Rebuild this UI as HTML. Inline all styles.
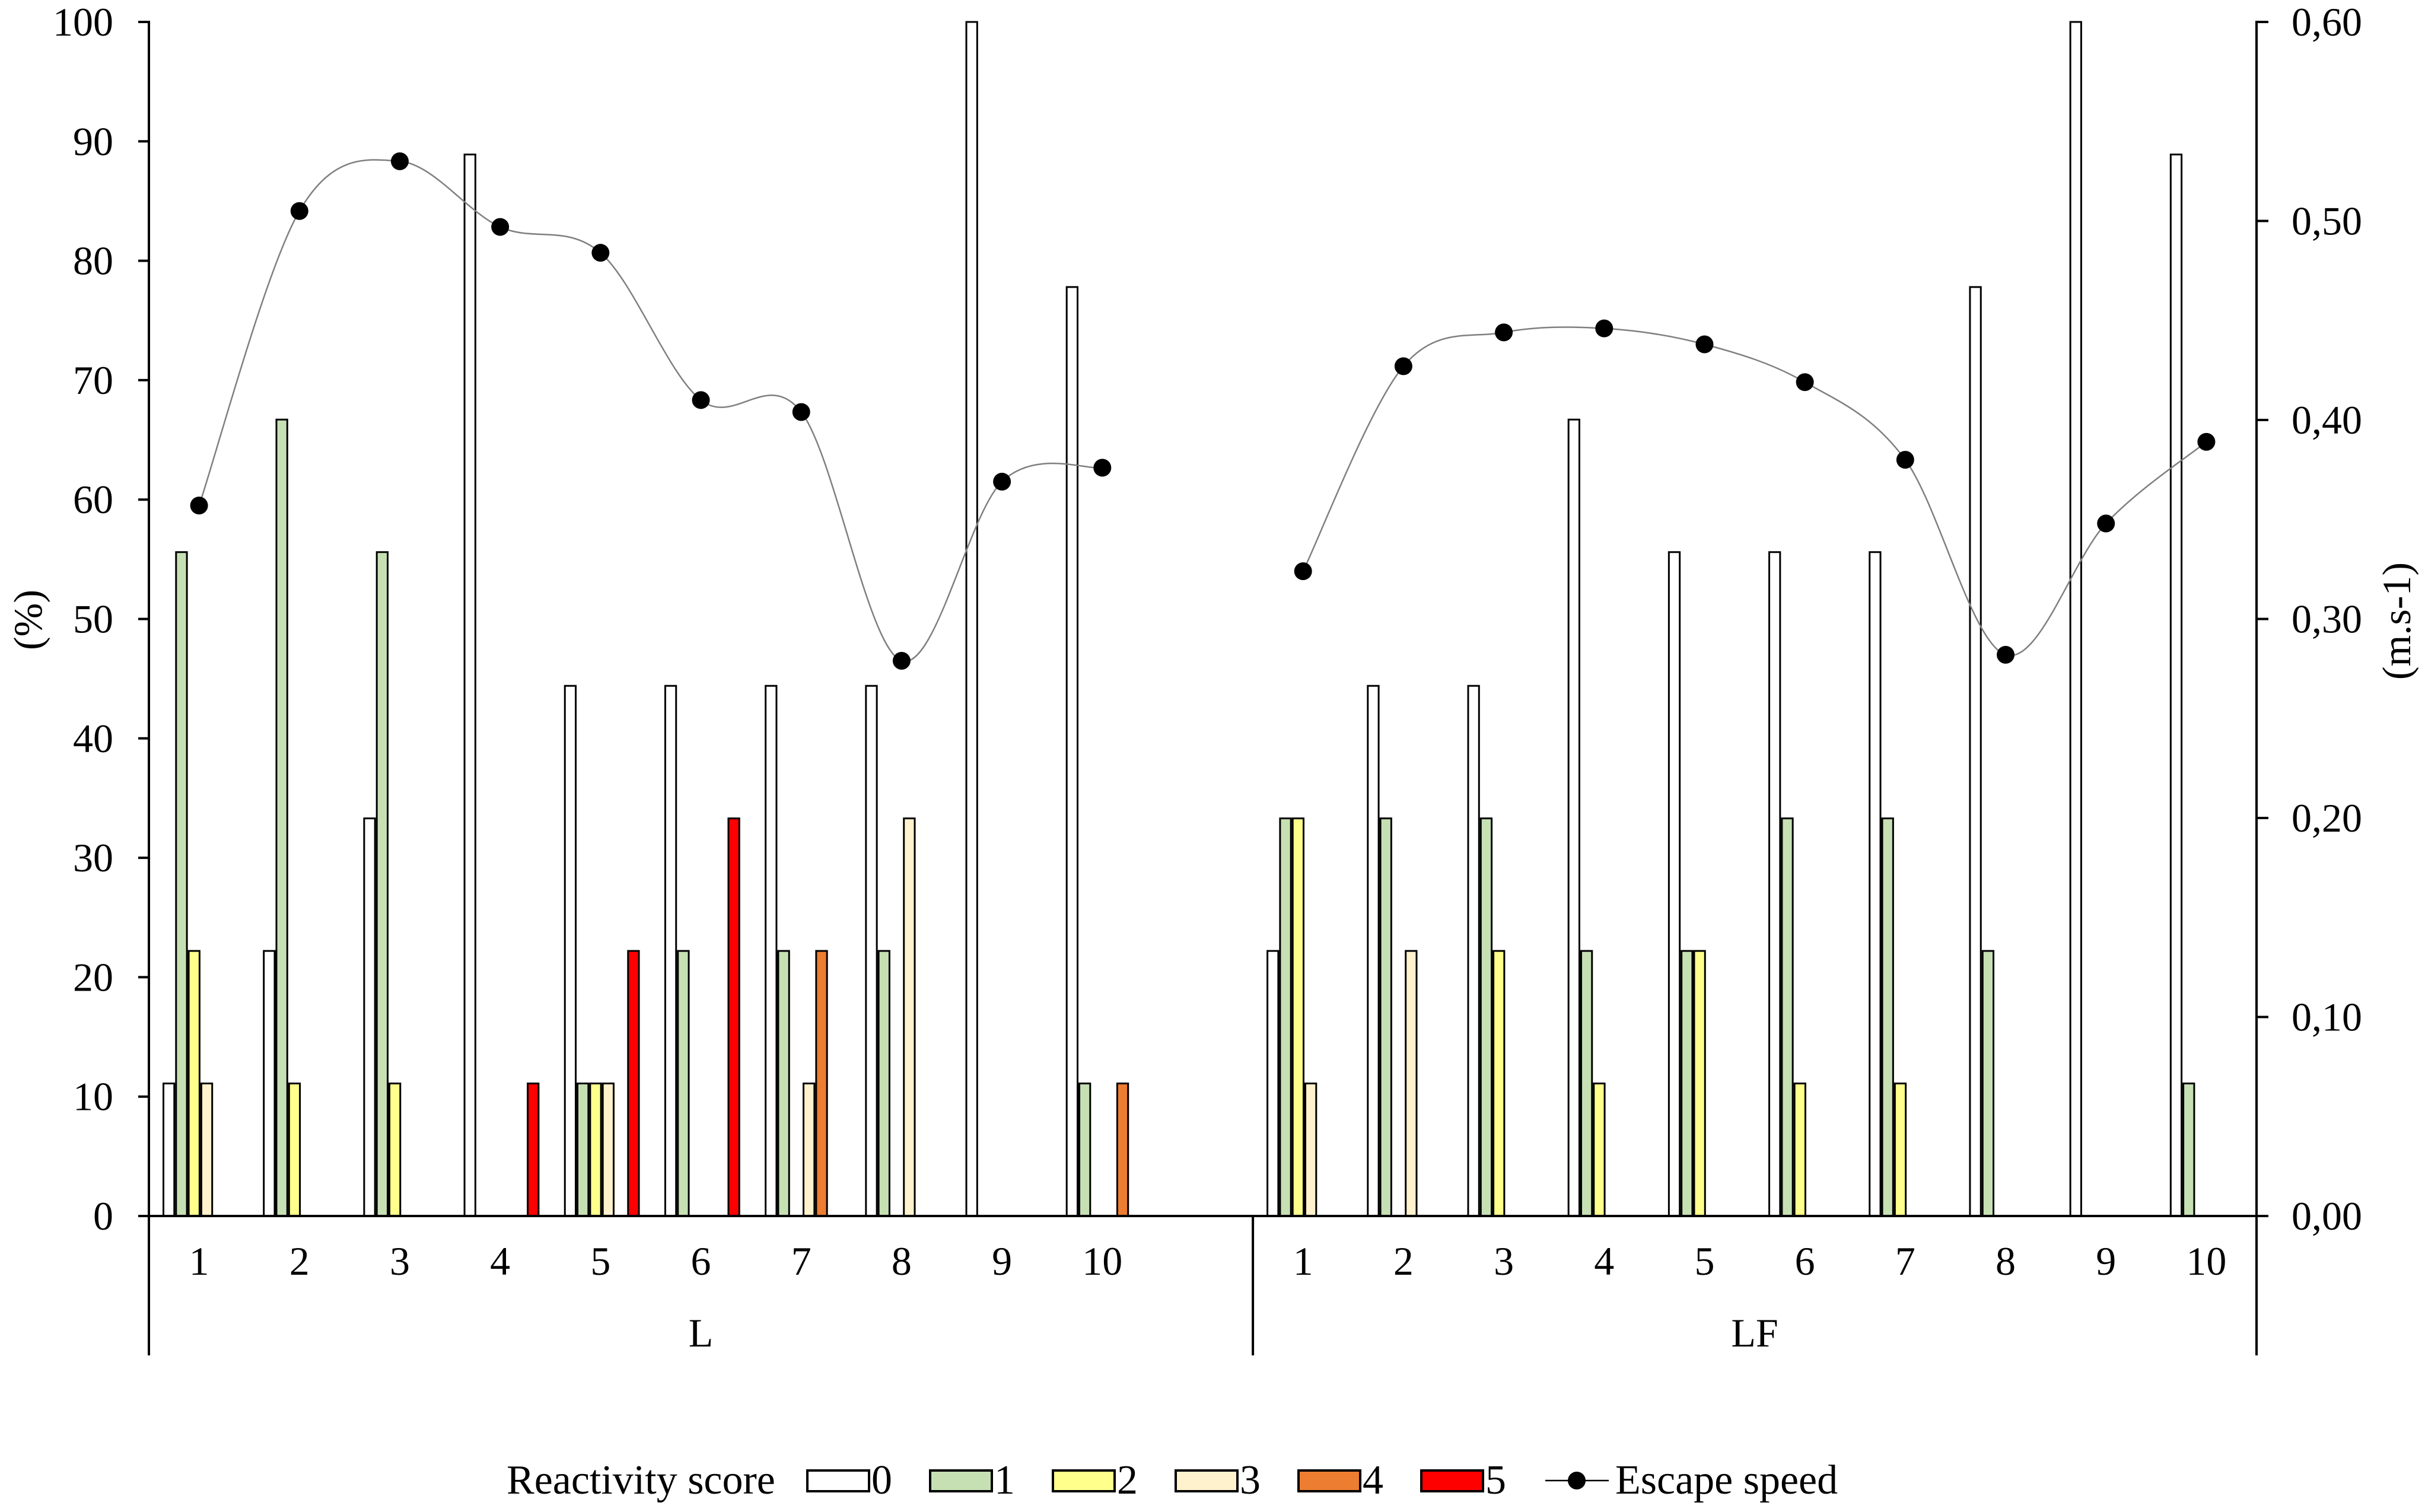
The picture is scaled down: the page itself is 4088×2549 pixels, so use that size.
<!DOCTYPE html>
<html><head><meta charset="utf-8">
<style>
html,body{margin:0;padding:0;background:#fff;}
svg{display:block;font-family:"Liberation Serif","Times New Roman",serif;}
</style></head>
<body>
<svg id="chart" width="4088" height="2549" viewBox="0 0 4088 2549" xmlns="http://www.w3.org/2000/svg">
<g id="bars"></g>
<g id="lines"></g>
<g id="axes"></g>
<g id="legend"></g>
</svg>
<script>
const groups = ["L", "LF"];
const categories = ["1","2","3","4","5","6","7","8","9","10"];
const scoreLabels = ["0","1","2","3","4","5"];
const scoreColors = ["#ffffff","#c6e0b4","#ffff8c","#fff2cc","#ed7d31","#ff0000"];
// percent per score [s0..s5] per category
const L_scores = [
 [11.1,55.6,22.2,11.1,0,0],
 [22.2,66.7,11.1,0,0,0],
 [33.3,55.6,11.1,0,0,0],
 [88.9,0,0,0,0,11.1],
 [44.4,11.1,11.1,11.1,0,22.2],
 [44.4,22.2,0,0,0,33.3],
 [44.4,22.2,0,11.1,22.2,0],
 [44.4,22.2,0,33.3,0,0],
 [100,0,0,0,0,0],
 [77.8,11.1,0,0,11.1,0]
];
const LF_scores = [
 [22.2,33.3,33.3,11.1,0,0],
 [44.4,33.3,0,22.2,0,0],
 [44.4,33.3,22.2,0,0,0],
 [66.7,22.2,11.1,0,0,0],
 [55.6,22.2,22.2,0,0,0],
 [55.6,33.3,11.1,0,0,0],
 [55.6,33.3,11.1,0,0,0],
 [77.8,22.2,0,0,0,0],
 [100,0,0,0,0,0],
 [88.9,11.1,0,0,0,0]
];
const L_speed = [0.357,0.505,0.530,0.497,0.484,0.410,0.404,0.279,0.369,0.376];
const LF_speed = [0.324,0.427,0.444,0.446,0.438,0.419,0.380,0.282,0.348,0.389];
const leftTicks = [0,10,20,30,40,50,60,70,80,90,100];
const rightTicks = ["0,00","0,10","0,20","0,30","0,40","0,50","0,60"];

const NS="http://www.w3.org/2000/svg";
const X0=251, X1=3804, Y0=2050, Y100=37;
const SLOT=(X1-X0)/21, BW=21.3, BOFF=23;
function yPct(v){return Y0-(v/100)*(Y0-Y100);}
function ySpd(v){return Y0-(v/0.6)*(Y0-Y100);}
function slotStart(g,i){return X0+(g===0?i:11+i)*SLOT;}
function mk(tag,attrs,parent){const e=document.createElementNS(NS,tag);for(const k in attrs)e.setAttribute(k,attrs[k]);parent.appendChild(e);return e;}

const barsG=document.getElementById('bars');
[L_scores,LF_scores].forEach((data,g)=>{
  data.forEach((row,i)=>{
    row.forEach((v,s)=>{
      if(v<=0) return;
      const x=slotStart(g,i)+BOFF+s*BW;
      const r=mk('rect',{x:x+1.5,y:yPct(v),width:BW-3,height:Y0-yPct(v),fill:scoreColors[s],stroke:'#000','stroke-width':3},barsG);
      
      
    });
  });
});

const linesG=document.getElementById('lines');
function spline(pts){
  let d='M'+pts[0][0]+','+pts[0][1];
  for(let i=0;i<pts.length-1;i++){
    const p0=pts[i-1]||pts[i],p1=pts[i],p2=pts[i+1],p3=pts[i+2]||pts[i+1];
    const c1=[p1[0]+(p2[0]-p0[0])/6,p1[1]+(p2[1]-p0[1])/6];
    const c2=[p2[0]-(p3[0]-p1[0])/6,p2[1]-(p3[1]-p1[1])/6];
    d+=' C'+c1[0]+','+c1[1]+' '+c2[0]+','+c2[1]+' '+p2[0]+','+p2[1];
  }
  return d;
}
[L_speed,LF_speed].forEach((data,g)=>{
  const pts=data.map((v,i)=>[slotStart(g,i)+SLOT/2,ySpd(v)]);
  const p=mk('path',{d:spline(pts),fill:'none',stroke:'#7f7f7f','stroke-width':2.5},linesG);
  
  
  pts.forEach((pt,i)=>{
    const c=mk('circle',{cx:pt[0],cy:pt[1],r:15,fill:'#000'},linesG);
    
    
  });
});

const ax=document.getElementById('axes');
let e;
e=mk('line',{x1:X0,y1:Y100-2,x2:X0,y2:2285,stroke:'#000','stroke-width':4},ax);

e=mk('line',{x1:X1,y1:Y100-2,x2:X1,y2:2285,stroke:'#000','stroke-width':4},ax);

e=mk('line',{x1:233,y1:Y0,x2:3824,y2:Y0,stroke:'#000','stroke-width':4},ax);

e=mk('line',{x1:X0+11*SLOT,y1:Y0,x2:X0+11*SLOT,y2:2285,stroke:'#000','stroke-width':4},ax);

leftTicks.forEach(v=>{
  const y=yPct(v);
  e=mk('line',{x1:233,y1:y,x2:X0,y2:y,stroke:'#000','stroke-width':4},ax);
  
  e=mk('text',{x:191,y:y+23,'text-anchor':'end','font-size':68},ax);e.textContent=v;
  
});
rightTicks.forEach((lab,i)=>{
  const y=ySpd(i*0.1);
  e=mk('line',{x1:X1,y1:y,x2:3824,y2:y,stroke:'#000','stroke-width':4},ax);
  
  e=mk('text',{x:3863,y:y+23,'font-size':68},ax);e.textContent=lab;
  
});
groups.forEach((gname,g)=>{
  categories.forEach((c,i)=>{
    e=mk('text',{x:slotStart(g,i)+SLOT/2,y:2149,'text-anchor':'middle','font-size':68},ax);e.textContent=c;
    
  });
  const cx=g===0?(X0+X0+11*SLOT)/2:(X0+11*SLOT+X1)/2;
  e=mk('text',{x:cx,y:2270,'text-anchor':'middle','font-size':68},ax);e.textContent=gname;
  
});
e=mk('text',{x:0,y:0,'text-anchor':'middle','dominant-baseline':'central','font-size':68,transform:'translate(47,1045) rotate(-90)'},ax);e.textContent='(%)';

e=mk('text',{x:0,y:0,'text-anchor':'middle','dominant-baseline':'central','font-size':68,transform:'translate(4040,1047) rotate(-90)'},ax);e.textContent='(m.s-1)';


const lg=document.getElementById('legend');
e=mk('text',{x:854,y:2518,'font-size':70},lg);e.textContent='Reactivity score';

scoreLabels.forEach((s,i)=>{
  const x=1359+i*207;
  e=mk('rect',{x:x+2,y:2479,width:104,height:35,fill:scoreColors[i],stroke:'#000','stroke-width':4},lg);
  
  e=mk('text',{x:x+110,y:2518,'font-size':70},lg);e.textContent=s;
  
});
e=mk('line',{x1:2605,y1:2496,x2:2712,y2:2496,stroke:'#000','stroke-width':2.5},lg);

e=mk('circle',{cx:2658,cy:2496,r:15,fill:'#000'},lg);

e=mk('text',{x:2723,y:2518,'font-size':70},lg);e.textContent='Escape speed';

</script>
</body></html>
